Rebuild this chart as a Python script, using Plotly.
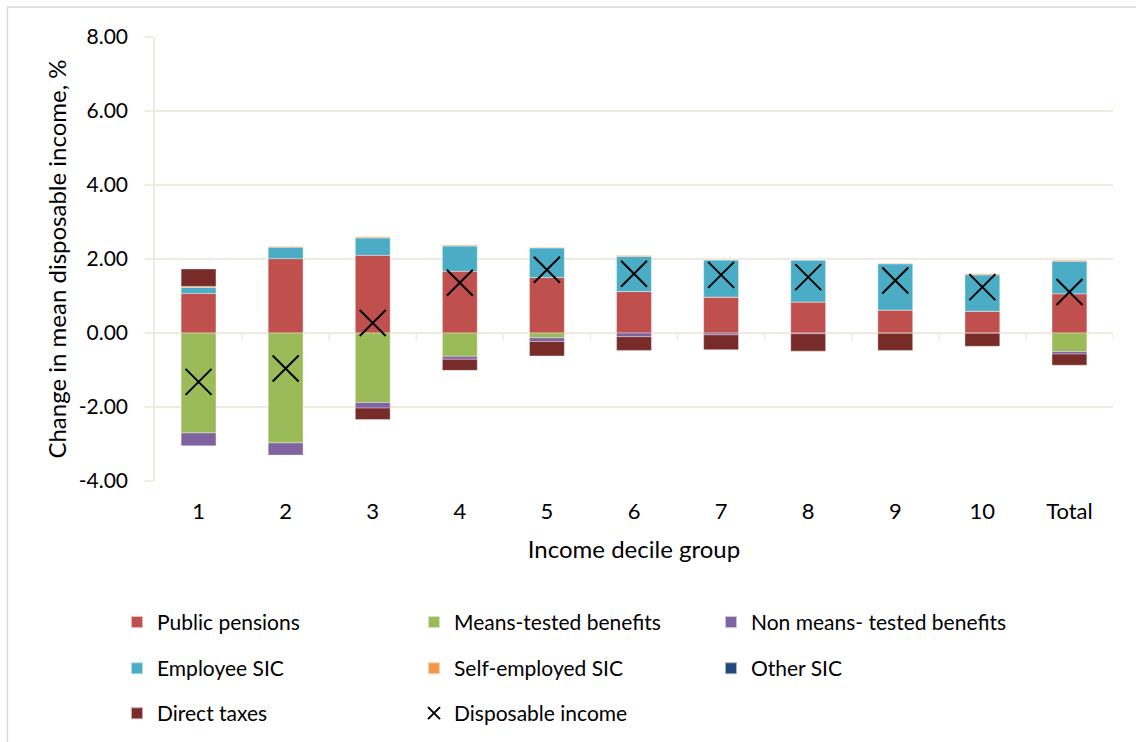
import plotly.graph_objects as go

categories = ["1", "2", "3", "4", "5", "6", "7", "8", "9", "10", "Total"]

public_pensions = [1.07, 2.01, 2.10, 1.67, 1.50, 1.12, 0.97, 0.84, 0.62, 0.59, 1.06]
means_tested = [-2.70, -2.97, -1.88, -0.63, -0.13, 0.00, 0.00, 0.00, 0.00, 0.00, -0.50]
non_means_tested = [-0.35, -0.33, -0.15, -0.08, -0.10, -0.10, -0.05, -0.02, -0.01, -0.01, -0.07]
employee_sic = [0.16, 0.31, 0.47, 0.68, 0.80, 0.95, 1.00, 1.13, 1.25, 0.98, 0.88]
self_employed_sic = [0.03, 0.03, 0.03, 0.03, 0.02, 0.03, 0.02, 0.01, 0.02, 0.03, 0.03]
other_sic = [0, 0, 0, 0, 0, 0, 0, 0, 0, 0, 0]
direct_taxes = [0.47, 0.00, -0.31, -0.30, -0.39, -0.37, -0.40, -0.47, -0.46, -0.35, -0.30]
disposable_income = [-1.32, -0.96, 0.27, 1.36, 1.71, 1.60, 1.57, 1.51, 1.42, 1.24, 1.11]

y_tick_values = [-4, -2, 0, 2, 4, 6, 8]
y_tick_labels = ["-4.00", "-2.00", "0.00", "2.00", "4.00", "6.00", "8.00"]

FONT = "Lato, Carlito, Calibri, sans-serif"
GRID = "#EEECE1"

series = [
    ("Public pensions", public_pensions, "#C0504D", "legend"),
    ("Means-tested benefits", means_tested, "#9BBB59", "legend"),
    ("Non means- tested benefits", non_means_tested, "#8064A2", "legend"),
    ("Employee SIC", employee_sic, "#4BACC6", "legend2"),
    ("Self-employed SIC", self_employed_sic, "#F79646", "legend2"),
    ("Other SIC", other_sic, "#1F497D", "legend2"),
    ("Direct taxes", direct_taxes, "#772C2A", "legend3"),
]

fig = go.Figure()
for name, vals, color, lg in series:
    fig.add_trace(go.Bar(
        x=categories, y=vals, name=name, legend=lg,
        marker=dict(color=color, line=dict(color="rgba(255,255,255,0.6)", width=0.6)),
        width=0.4,
    ))

fig.add_trace(go.Scatter(
    x=categories, y=disposable_income, name="Disposable income", legend="legend3",
    mode="markers",
    marker=dict(symbol="x-thin", size=26, color="black", line=dict(color="black", width=2)),
))

# category-boundary tick marks on the zero line
shapes = []
for i in range(len(categories)):
    shapes.append(dict(type="line", xref="x", yref="y", x0=i + 0.5, x1=i + 0.5,
                       ysizemode="pixel", yanchor=0, y0=0, y1=-8,
                       line=dict(color=GRID, width=1.5), layer="below"))
# chart area border
shapes.append(dict(type="rect", xref="paper", yref="paper",
                   x0=-0.154, x1=1.2, y0=-1.0, y1=1.0676,
                   line=dict(color="#D9D9D9", width=1.5)))

legend_common = dict(orientation="h", xanchor="left", yanchor="middle",
                     xref="container", yref="container", x=0.103,
                     font=dict(family=FONT, size=21, color="#000"),
                     entrywidth=252, entrywidthmode="pixels",
                     bgcolor="rgba(0,0,0,0)", itemsizing="constant")

fig.update_layout(
    width=1136, height=742,
    margin=dict(l=155, r=23, t=37, b=261),
    paper_bgcolor="white", plot_bgcolor="white",
    barmode="relative", bargap=0.6,
    font=dict(family=FONT, size=21, color="#000"),
    shapes=shapes,
    showlegend=True,
    legend=dict(legend_common, y=0.1611),
    legend2=dict(legend_common, y=0.0990),
    legend3=dict(legend_common, y=0.0384),
    xaxis=dict(
        type="category", range=[-0.5, 10.5],
        showgrid=False, showline=False, ticks="", zeroline=False,
        tickfont=dict(family=FONT, size=22, color="#000"),
        ticklabelstandoff=15,
        title=dict(text="Income decile group", font=dict(family=FONT, size=24, color="#000"), standoff=18),
    ),
    yaxis=dict(
        range=[-4, 8], tickmode="array", tickvals=y_tick_values, ticktext=y_tick_labels,
        showgrid=True, gridcolor=GRID, gridwidth=1.5,
        zeroline=True, zerolinecolor=GRID, zerolinewidth=1.5,
        showline=True, linecolor=GRID, linewidth=1.5,
        ticks="outside", ticklen=8, tickcolor=GRID, tickwidth=1.5,
        ticklabelstandoff=13,
        tickfont=dict(family=FONT, size=21, color="#000"),
        title=dict(text="Change in mean disposable income, %", font=dict(family=FONT, size=24, color="#000"), standoff=5),
    ),
)

fig.write_html("out.html")
